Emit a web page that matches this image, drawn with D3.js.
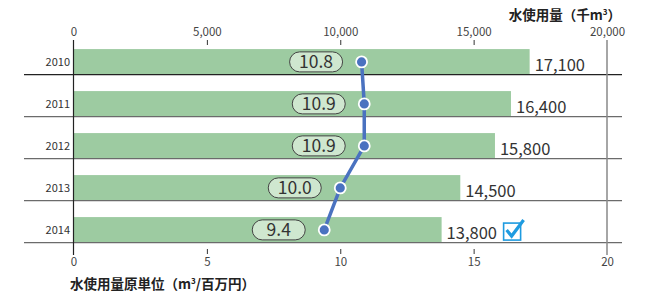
<!DOCTYPE html>
<html>
<head>
<meta charset="utf-8">
<script src="https://cdn.jsdelivr.net/npm/d3@7"></script>
<style>
  body { margin: 0; background: #fff; }
  text { font-family: "Noto Sans CJK JP", "Noto Sans", sans-serif; }
</style>
</head>
<body>
<div id="chart"></div>
<script>
// data
var years = ["2010", "2011", "2012", "2013", "2014"];
var usage = [17100, 16400, 15800, 14500, 13800];      // 水使用量 (千m3)
var intensity = [10.8, 10.9, 10.9, 10.0, 9.4];        // 原単位 (m3/百万円)
var topTicks = [0, 5000, 10000, 15000, 20000];
var bottomTicks = [0, 5, 10, 15, 20];

var svgWidth = 646, svgHeight = 295;

var svg = d3.select("#chart").append("svg")
  .attr("width", svgWidth)
  .attr("height", svgHeight);

var xTop = d3.scaleLinear().domain([0, 20000]).range([73.5, 607]);
var xBot = d3.scaleLinear().domain([0, 20]).range([73.5, 607]);
var y = d3.scaleBand().domain(years).range([32.7, 242.7]).padding(0);
var bw = y.bandwidth();

var rows = years.map(function(yr, i) {
  return { year: yr, usage: usage[i], intensity: intensity[i] };
});

// bars
svg.selectAll("rect.bar")
  .data(rows)
  .enter()
  .append("rect")
  .attr("class", "bar")
  .attr("x", xTop(0))
  .attr("y", d => y(d.year) + bw * 0.39)
  .attr("width", d => xTop(d.usage) - xTop(0))
  .attr("height", bw * 0.61)
  .attr("fill", "#9dcba1");

// row separators
svg.selectAll("line.sep")
  .data(rows)
  .enter()
  .append("line")
  .attr("x1", 24).attr("x2", 622)
  .attr("y1", d => y(d.year) + bw)
  .attr("y2", d => y(d.year) + bw)
  .attr("stroke", (d, i) => i == 0 ? "#222" : "#6b6b6b")
  .attr("stroke-width", 1.3);

// left axis line and right gray line
svg.append("line")
  .attr("x1", xTop(0)).attr("x2", xTop(0))
  .attr("y1", 40).attr("y2", 255)
  .attr("stroke", "#222").attr("stroke-width", 1.2);
svg.append("line")
  .attr("x1", xTop(20000)).attr("x2", xTop(20000))
  .attr("y1", 40).attr("y2", 255)
  .attr("stroke", "#888").attr("stroke-width", 1.5);

// top axis
var topAxis = d3.axisTop(xTop).tickValues(topTicks).tickSize(5).tickPadding(4)
  .tickFormat(d3.format(","));
var gTop = svg.append("g").attr("transform", "translate(0,45)").call(topAxis);
gTop.select(".domain").remove();
gTop.selectAll(".tick line").attr("stroke", "#333")
  .style("display", (d) => (d == 0 || d == 20000) ? "none" : null);
gTop.selectAll(".tick text").attr("fill", "#444").style("font-size", "11.5px");

// bottom axis
var botAxis = d3.axisBottom(xBot).tickValues(bottomTicks).tickSize(5).tickPadding(4);
var gBot = svg.append("g").attr("transform", "translate(0,249)").call(botAxis);
gBot.select(".domain").remove();
gBot.selectAll(".tick line").attr("stroke", "#333")
  .style("display", (d) => (d == 0 || d == 20) ? "none" : null);
gBot.selectAll(".tick text").attr("fill", "#444").style("font-size", "11.5px");

// year labels
svg.selectAll("text.year")
  .data(rows)
  .enter()
  .append("text")
  .attr("class", "year")
  .attr("x", 70)
  .attr("y", d => y(d.year) + bw * 0.7)
  .attr("dy", "0.35em")
  .attr("text-anchor", "end")
  .attr("fill", "#333")
  .style("font-size", "11px")
  .text(d => d.year);

// usage value labels
svg.selectAll("text.val")
  .data(rows)
  .enter()
  .append("text")
  .attr("class", "val")
  .attr("x", d => xTop(d.usage) + 5)
  .attr("y", d => y(d.year) + bw - 4)
  .attr("fill", "#333")
  .style("font-size", "16.5px")
  .text(d => d3.format(",")(d.usage));

// check box icon next to last value
var last = rows[rows.length - 1];
var cx0 = xTop(last.usage) + 62, cy0 = y(last.year) + bw * 0.39 + 2;
svg.append("rect")
  .attr("x", cx0).attr("y", cy0 + 4)
  .attr("width", 17).attr("height", 17)
  .attr("fill", "#fff").attr("stroke", "#1e9be0").attr("stroke-width", 1.6);
svg.append("path")
  .attr("d", `M${cx0 + 3},${cy0 + 11} L${cx0 + 8},${cy0 + 17} L${cx0 + 20},${cy0 + 1}`)
  .attr("fill", "none").attr("stroke", "#1e9be0").attr("stroke-width", 3.2);

// line for intensity
var line = d3.line()
  .x(d => xBot(d.intensity))
  .y(d => y(d.year) + bw * 0.695);
svg.append("path")
  .datum(rows)
  .attr("d", line)
  .attr("fill", "none")
  .attr("stroke", "#4a72c0")
  .attr("stroke-width", 3.5);

// pills
var pills = svg.selectAll("g.pill")
  .data(rows)
  .enter()
  .append("g")
  .attr("class", "pill")
  .attr("transform", d => `translate(${xBot(d.intensity) - 19 - 53},${y(d.year) + bw * 0.695 - 10})`);
pills.append("rect")
  .attr("width", 53).attr("height", 20).attr("rx", 10)
  .attr("fill", "#cfe7cf").attr("stroke", "#444").attr("stroke-width", 1);
pills.append("text")
  .attr("x", 26.5).attr("y", 10).attr("dy", "0.36em")
  .attr("text-anchor", "middle")
  .attr("fill", "#333")
  .style("font-size", "17.5px")
  .text(d => d3.format(".1f")(d.intensity));

// points
svg.selectAll("circle.pt")
  .data(rows)
  .enter()
  .append("circle")
  .attr("class", "pt")
  .attr("cx", d => xBot(d.intensity))
  .attr("cy", d => y(d.year) + bw * 0.695)
  .attr("r", 5.5)
  .attr("fill", "#4a72c0")
  .attr("stroke", "#fff")
  .attr("stroke-width", 1.8);

// titles
svg.append("text")
  .attr("x", 621).attr("y", 20)
  .attr("text-anchor", "end")
  .attr("fill", "#222")
  .style("font-size", "13.5px").style("font-weight", "bold")
  .html("水使用量（千m<tspan dy='-5' style='font-size:8px'>3</tspan><tspan dy='5'>）</tspan>");
svg.append("text")
  .attr("x", 70).attr("y", 289)
  .attr("fill", "#222")
  .style("font-size", "13.5px").style("font-weight", "bold")
  .html("水使用量原単位（m<tspan dy='-5' style='font-size:8px'>3</tspan><tspan dy='5'>/百万円）</tspan>");
</script>
</body>
</html>
